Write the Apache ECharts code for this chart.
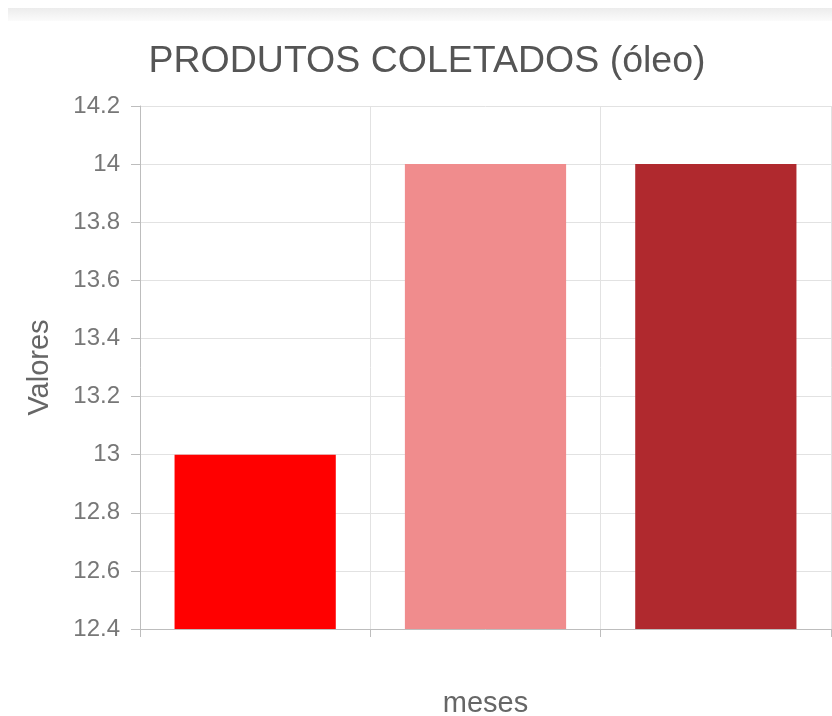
<!DOCTYPE html>
<html>
<head>
<meta charset="utf-8">
<script src="https://cdn.jsdelivr.net/npm/echarts@6/dist/echarts.min.js"></script>
<style>
  html, body { margin: 0; padding: 0; background: #fff; }
  #chart { width: 832px; height: 716px; }
</style>
</head>
<body>
<div id="chart"></div>
<script>
// Collected oil per month
const categories = ['1', '2', '3'];
const values = [13, 14, 14];
const barColors = ['#ff0000', '#f08c8d', '#b0292e'];

// Value axis range
const yMin = 12.4;
const yMax = 14.2;
const yStep = 0.2;

const FONT = '"Liberation Sans", Arial, sans-serif';

const chart = echarts.init(document.getElementById('chart'), null, { renderer: 'canvas' });

chart.setOption({
  animation: false,
  backgroundColor: '#ffffff',
  graphic: [{
    type: 'rect',
    shape: { x: 8, y: 8, width: 824, height: 13 },
    style: {
      fill: new echarts.graphic.LinearGradient(0, 0, 0, 1, [
        { offset: 0, color: '#ececec' },
        { offset: 1, color: '#fbfbfb' }
      ])
    },
    silent: true,
    z: -1
  }],
  title: {
    text: 'PRODUTOS COLETADOS (óleo)',
    left: 422,
    textAlign: 'center',
    top: 38,
    textStyle: { fontFamily: FONT, fontSize: 37.5, fontWeight: 'normal', color: '#555555' }
  },
  grid: { left: 140, right: 1, top: 106, bottom: 87, containLabel: false, outerBoundsMode: 'none' },
  xAxis: {
    type: 'category',
    data: categories,
    name: 'meses',
    nameLocation: 'middle',
    nameGap: 60,
    nameTextStyle: { fontFamily: FONT, fontSize: 29, color: '#666666' },
    axisLine: { lineStyle: { color: '#bdbdbd', width: 1 } },
    axisTick: { show: true, length: 8, lineStyle: { color: '#bdbdbd' } },
    axisLabel: { show: false },
    splitLine: { show: true, lineStyle: { color: '#e2e2e2', width: 1 } }
  },
  yAxis: {
    type: 'value',
    min: yMin,
    max: yMax,
    interval: yStep,
    name: 'Valores',
    nameLocation: 'middle',
    nameGap: 86,
    nameRotate: 90,
    nameTextStyle: { fontFamily: FONT, fontSize: 29, color: '#666666' },
    axisLine: { show: true, lineStyle: { color: '#bdbdbd', width: 1 } },
    axisTick: { show: true, length: 9, lineStyle: { color: '#bdbdbd' } },
    axisLabel: {
      fontFamily: FONT, fontSize: 24, color: '#777777', margin: 20,
      formatter: v => String(Math.round(v * 10) / 10)
    },
    splitLine: { show: true, lineStyle: { color: '#e2e2e2', width: 1 } }
  },
  series: [{
    type: 'bar',
    data: values.map((v, i) => ({ value: v, itemStyle: { color: barColors[i] } })),
    barWidth: '70%'
  }]
});
</script>
</body>
</html>
